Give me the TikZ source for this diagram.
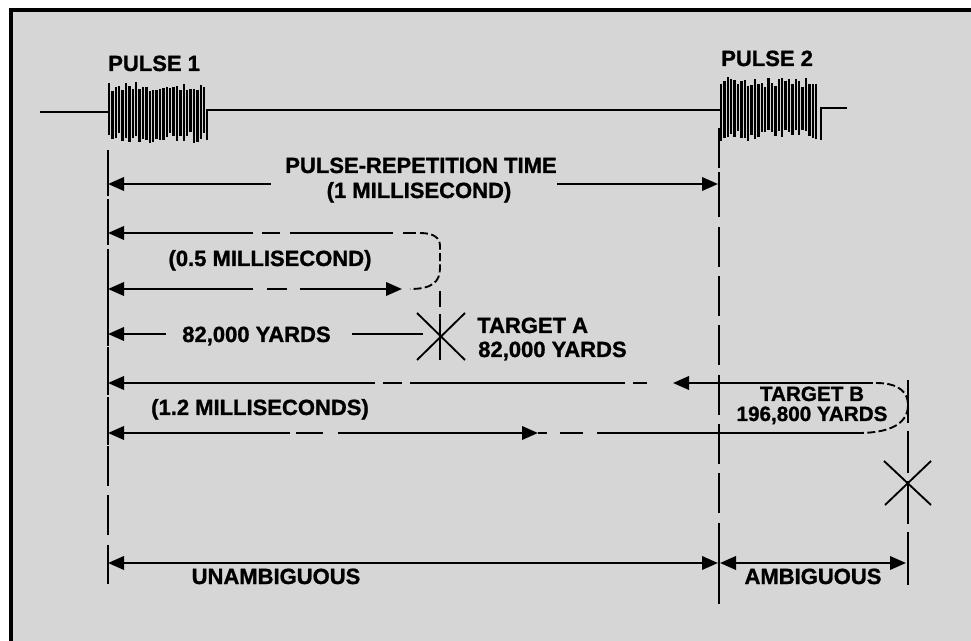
\documentclass[tikz,border=0pt]{standalone}
\usepackage{fontspec}
\setmainfont{Liberation Sans}[BoldFeatures={FakeBold=1.2}]
\usetikzlibrary{arrows.meta}
\definecolor{bg}{RGB}{214,214,214}
\begin{document}
\begin{tikzpicture}[x=0.75pt,y=-0.75pt,
  lbl/.style={font=\bfseries\fontsize{16.5}{19}\selectfont, inner sep=0pt},
  lbls/.style={font=\bfseries\fontsize{15.5}{18}\selectfont, inner sep=0pt},
  dim/.style={line width=1.9pt},
  thinln/.style={line width=1.4pt},
  vline/.style={line width=1.4pt},
  burst/.style={line width=1.9pt},
  curvy/.style={line width=1.4pt, dash pattern=on 6pt off 2.5pt},
  tipL/.style={{Triangle[length=12pt,width=10pt]}-},
  tipR/.style={-{Triangle[length=12pt,width=10pt]}},
  tipLR/.style={{Triangle[length=12pt,width=10pt]}-{Triangle[length=12pt,width=10pt]}},
  vdash/.style={vline, dash pattern=on 30pt off 7pt}
]
\useasboundingbox (0,0) rectangle (971,641);
\fill[white] (0,0) rectangle (971,641);
\fill[bg] (11,10) rectangle (971,641);
\draw[line width=3.2pt] (11,641) -- (11,10) -- (971,10);

% ---------- pulse 1 ----------
\draw[thinln] (40,112) -- (108,112);
\pgfmathsetseed{3}
\foreach \i in {0,...,28}{
  \pgfmathsetmacro\xx{109+3.4*\i}
  \pgfmathsetmacro\yt{82+9*rnd}
  \pgfmathsetmacro\yb{131+12*rnd}
  \draw[burst] (\xx,\yt) -- (\xx,\yb);
}
\draw[thinln] (207,140) -- (207,110) -- (720,110);

% ---------- pulse 2 ----------
\pgfmathsetseed{11}
\foreach \i in {0,...,28}{
  \pgfmathsetmacro\xx{721+3.4*\i}
  \pgfmathsetmacro\yt{77+11*rnd}
  \pgfmathsetmacro\yb{129+13*rnd}
  \draw[burst] (\xx,\yt) -- (\xx,\yb);
}
\draw[thinln] (821,140) -- (821,108) -- (847,108);

% ---------- labels ----------
\node[lbl, anchor=base west] (p1) at (108,71) {PULSE 1};
\node[lbl, anchor=base west] (p2) at (721,66) {PULSE 2};
\node[lbl, anchor=base] (prt) at (421,173) {PULSE-REPETITION TIME};
\node[lbl, anchor=base] (ms1) at (419,198) {(1 MILLISECOND)};
\node[lbl, anchor=base] (ms05) at (270,266) {(0.5 MILLISECOND)};
\node[lbl, anchor=base west] (ya) at (182,342) {82,000 YARDS};
\node[lbl, anchor=base west] (ta1) at (477,333) {TARGET A};
\node[lbl, anchor=base west] (ta2) at (478,357) {82,000 YARDS};
\node[lbl, anchor=base] (ms12) at (260,415) {(1.2 MILLISECONDS)};
\node[lbls, anchor=base] (tb1) at (812,401) {TARGET B};
\node[lbls, anchor=base] (tb2) at (812,421) {196,800 YARDS};
\node[lbl, anchor=base] (un) at (276,584) {UNAMBIGUOUS};
\node[lbl, anchor=base] (amb) at (813,584) {AMBIGUOUS};

% ---------- vertical reference lines ----------
\draw[vdash] (108,150) -- (108,584);
\foreach \y in {184,233,289,334,383,433,563}
  \draw[vline] (108,\y-12) -- (108,\y+12);
\draw[vdash] (719,128) -- (719,604);
\draw[vline] (719,172) -- (719,196) (719,545) -- (719,600);
\draw[vline, dash pattern=on 32pt off 6pt] (908,380) -- (908,585);
\draw[vline] (908,545) -- (908,585);
\draw[vline] (440,291) -- (440,307) (440,314) -- (440,360);

% ---------- pulse-repetition time ----------
\draw[dim,tipL] (108,184) -- (271,184);
\draw[dim,tipR] (557,184) -- (718,184);

% ---------- 0.5 ms loop ----------
\draw[dim,tipL] (108,233) -- (253,233);
\draw[dim] (262,233) -- (280,233) (290,233) -- (393,233) (403,233) -- (416,233);
\draw[curvy] (420,233) .. controls (434,233) and (440,238) .. (440,246) -- (440,268)
  .. controls (440,282) and (432,289) .. (410,289);
\draw[dim,tipL] (108,289) -- (253,289);
\draw[dim] (267,289) -- (287,289);
\draw[dim,tipR] (300,289) -- (402,289);

% ---------- target A ----------
\draw[dim,tipL] (108,334) -- (166,334);
\draw[thinln] (352,334) -- (423,334);
\coordinate (tA) at (441,337);
\draw[thinln] (417,313) -- (465,360) (465,313) -- (417,360);

% ---------- 1.2 ms loop ----------
\draw[dim,tipL] (108,383) -- (375,383);
\draw[dim] (383,383) -- (402,383) (410,383) -- (625,383) (633,383) -- (647,383);
\draw[dim,tipL] (673,383) -- (873,383);
\draw[curvy] (876,383) .. controls (900,383) and (908,393) .. (908,405)
  .. controls (908,422) and (893,433) .. (858,433);
\draw[dim,tipL] (108,433) -- (290,433);
\draw[dim] (296,433) -- (323,433);
\draw[dim,tipR] (338,433) -- (538,433);
\draw[dim] (538,433) -- (547,433) (560,433) -- (583,433) (597,433) -- (858,433);

% ---------- target B ----------
\coordinate (tB) at (908,483);
\draw[thinln] (884,461) -- (931,505) (931,461) -- (885,505);

% ---------- bottom ranges ----------
\draw[dim,tipLR] (108,563) -- (718,563);
\draw[dim,tipLR] (720,563) -- (906,563);
\end{tikzpicture}
\end{document}
